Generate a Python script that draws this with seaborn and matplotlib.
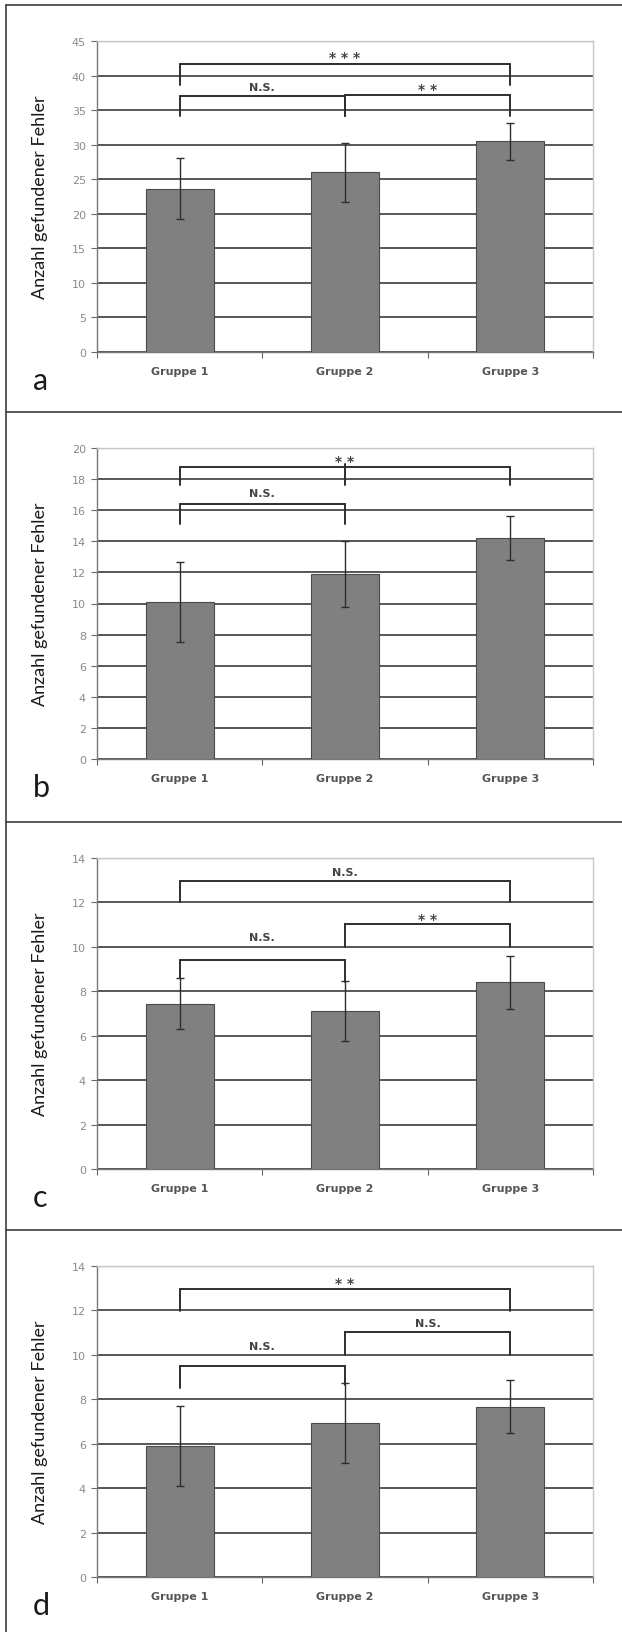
import numpy as np
import pandas as pd
import matplotlib
matplotlib.use("Agg")
import matplotlib.pyplot as plt
from matplotlib.lines import Line2D
import seaborn as sns

# ---------------------------------------------------------------- data
groups = ["Gruppe 1", "Gruppe 2", "Gruppe 3"]
panel_names = ["a", "b", "c", "d"]

means_a = [23.6, 26.0, 30.5]
err_a = [4.4, 4.3, 2.7]
means_b = [10.1, 11.9, 14.2]
err_b = [2.6, 2.1, 1.4]
means_c = [7.45, 7.1, 8.4]
err_c = [1.15, 1.35, 1.2]
means_d = [5.9, 6.95, 7.67]
err_d = [1.8, 1.8, 1.2]

ymax = [45, 20, 14, 14]
ystep = [5, 2, 2, 2]

# brackets: (left group, right group, top, left leg end, right leg end, label, label x, label y)
brackets_a = [(0, 2, 41.6, 38.6, 38.6, "***", 1.0, 43.3),
              (0, 1, 37.0, 34.2, 34.2, "N.S.", 0.5, 38.3),
              (1, 2, 37.2, 34.2, 34.2, "**", 1.5, 38.7)]
brackets_b = [(0, 2, 18.8, 17.6, 17.6, "**", 1.0, 19.45),
              (0, 1, 16.4, 15.1, 15.1, "N.S.", 0.5, 17.1)]
brackets_c = [(0, 2, 12.95, 12.0, 12.0, "N.S.", 1.0, 13.35),
              (1, 2, 11.03, 10.0, 10.0, "**", 1.5, 11.45),
              (0, 1, 9.40, 8.6, 8.4, "N.S.", 0.5, 10.43)]
brackets_d = [(0, 2, 12.95, 11.97, 11.97, "**", 1.0, 13.4),
              (1, 2, 11.02, 10.0, 10.0, "N.S.", 1.5, 11.42),
              (0, 1, 9.48, 8.5, 8.66, "N.S.", 0.5, 10.4)]
# extra vertical tick in panel b: (group, top, bottom)
mid_legs_b = [(1, 18.95, 17.6)]

means = [means_a, means_b, means_c, means_d]
errs = [err_a, err_b, err_c, err_d]
brackets = [brackets_a, brackets_b, brackets_c, brackets_d]
mid_legs = [[], mid_legs_b, [], []]

# ---------------------------------------------------------------- figure
sns.set_theme(style="white")
plt.rcParams['font.family'] = ['DejaVu Sans']

W, H = 622, 1633
fig = plt.figure(figsize=(W / 100, H / 100), dpi=100)
fig.patch.set_facecolor("white")

panel_top = [6, 413, 823, 1231]
ax_left, ax_right = 97, 593
ink = "#2e2e2e"

for k in range(4):
    top = panel_top[k] + 36
    bottom = panel_top[k] + 347
    ax = fig.add_axes([ax_left / W, 1 - bottom / H, (ax_right - ax_left) / W, (bottom - top) / H])

    df = pd.DataFrame({"group": groups, "value": means[k]})
    sns.barplot(data=df, x="group", y="value", color="#808080", width=0.41,
                saturation=1, edgecolor="#4a4a4a", linewidth=0.8, errorbar=None,
                ax=ax, zorder=3)
    ax.errorbar(np.arange(3), means[k], yerr=errs[k], fmt="none", ecolor=ink,
                elinewidth=1.0, capsize=3, capthick=1.0, zorder=4)

    for (i, j, yt, yl, yr, lab, lx, ly) in brackets[k]:
        ax.plot([i, i, j, j], [yl, yt, yt, yr], color=ink, lw=1.4, zorder=5,
                solid_joinstyle="miter")
        if lab.startswith("*"):
            # star marks are drawn spaced out, a bit lower since the glyph sits high
            ax.annotate(" ".join(lab), (lx, ly), xytext=(0, -3), textcoords="offset points",
                        ha="center", va="center", fontsize=10, fontweight="bold",
                        color="#444444", zorder=6)
        else:
            ax.text(lx, ly, lab, ha="center", va="center", fontsize=8,
                    fontweight="bold", color="#444444", zorder=6)
    for (g, y0, y1) in mid_legs[k]:
        ax.plot([g, g], [y1, y0], color=ink, lw=1.4, zorder=5)

    ax.set_xlim(-0.5, 2.5)
    ax.set_ylim(0, ymax[k])
    ax.set_yticks(np.arange(0, ymax[k] + 0.01, ystep[k]))
    ax.set_xticks([0, 1, 2])
    ax.set_xticks([-0.5, 0.5, 1.5, 2.5], minor=True)
    ax.set_xticklabels(groups, fontsize=8, fontweight="bold", color="#555555")
    ax.tick_params(axis="x", which="major", length=0, pad=10)
    ax.tick_params(axis="x", which="minor", length=4, width=0.8, color="#666666",
                   direction="out", bottom=True)
    ax.tick_params(axis="y", length=4, width=0.8, color="#666666", left=True,
                   labelsize=8, labelcolor="#8a8a8a", pad=4)
    ax.set_xlabel("")
    ax.set_ylabel("")

    ax.yaxis.grid(True, color="#3a3a3a", lw=1.2)
    ax.set_axisbelow(True)
    gl = ax.get_ygridlines()
    gl[-1].set_color("#bdbdbd")
    gl[-1].set_linewidth(1.0)

    for side in ["left", "bottom"]:
        ax.spines[side].set_color("#777777")
        ax.spines[side].set_linewidth(1.0)
    for side in ["top", "right"]:
        ax.spines[side].set_color("#c8c8c8")
        ax.spines[side].set_linewidth(1.0)

    # axis title and panel letter
    fig.text(40 / W, 1 - (top + bottom) / 2 / H, "Anzahl gefundener Fehler",
             rotation=90, ha="center", va="center", fontsize=13,
             family=["Lato", "DejaVu Sans"], color="#1a1a1a")
    fig.text(33 / W, 1 - (panel_top[k] + 384) / H, panel_names[k],
             ha="left", va="baseline", fontsize=22,
             family=["Lato", "DejaVu Sans"], color="#1a1a1a")

# panel frame lines
frame = dict(color="#3c3c3c", lw=1.2, transform=fig.transFigure)
fig.add_artist(Line2D([6 / W, 6 / W], [1 - 6 / H, 0], **frame))
for y in panel_top:
    fig.add_artist(Line2D([6 / W, 1], [1 - y / H, 1 - y / H], **frame))

fig.savefig("out.png", dpi=100, facecolor="white")
plt.close(fig)
